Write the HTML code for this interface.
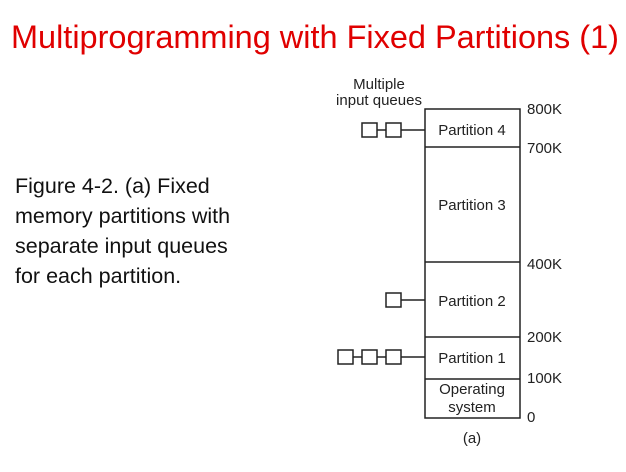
<!DOCTYPE html>
<html><head><style>
body{margin:0;width:626px;height:467px;background:#fff;overflow:hidden;font-family:"Liberation Sans",sans-serif;}
</style></head><body>
<svg width="626" height="467" xmlns="http://www.w3.org/2000/svg" font-family="Liberation Sans, sans-serif">
<text x="11" y="48" font-size="32.5" fill="#e00000" textLength="608" lengthAdjust="spacingAndGlyphs">Multiprogramming with Fixed Partitions (1)</text>
<g font-size="21.5" fill="#111">
<text x="15" y="193">Figure 4-2. (a) Fixed</text>
<text x="15" y="223">memory partitions with</text>
<text x="15" y="253">separate input queues</text>
<text x="15" y="283">for each partition.</text>
</g>
<g stroke="#222" stroke-width="1.5" fill="none">
<rect x="425" y="109" width="95" height="309"/>
<line x1="425" y1="147" x2="520" y2="147"/>
<line x1="425" y1="262" x2="520" y2="262"/>
<line x1="425" y1="337" x2="520" y2="337"/>
<line x1="425" y1="379" x2="520" y2="379"/>
<rect x="362" y="123" width="15" height="14"/><rect x="386" y="123" width="15" height="14"/>
<line x1="377" y1="130" x2="386" y2="130"/><line x1="401" y1="130" x2="425" y2="130"/>
<rect x="386" y="293" width="15" height="14"/><line x1="401" y1="300" x2="425" y2="300"/>
<rect x="338" y="350" width="15" height="14"/><rect x="362" y="350" width="15" height="14"/><rect x="386" y="350" width="15" height="14"/>
<line x1="353" y1="357" x2="362" y2="357"/><line x1="377" y1="357" x2="386" y2="357"/><line x1="401" y1="357" x2="425" y2="357"/>
</g>
<g font-size="15" fill="#222" text-anchor="middle">
<text x="379" y="89">Multiple</text>
<text x="379" y="105">input queues</text>
<text x="472" y="135">Partition 4</text>
<text x="472" y="210">Partition 3</text>
<text x="472" y="306">Partition 2</text>
<text x="472" y="363">Partition 1</text>
<text x="472" y="394">Operating</text>
<text x="472" y="412">system</text>
<text x="472" y="443">(a)</text>
</g>
<g font-size="15" fill="#222">
<text x="527" y="114">800K</text>
<text x="527" y="153">700K</text>
<text x="527" y="269">400K</text>
<text x="527" y="342">200K</text>
<text x="527" y="383">100K</text>
<text x="527" y="422">0</text>
</g>
</svg>
</body></html>
